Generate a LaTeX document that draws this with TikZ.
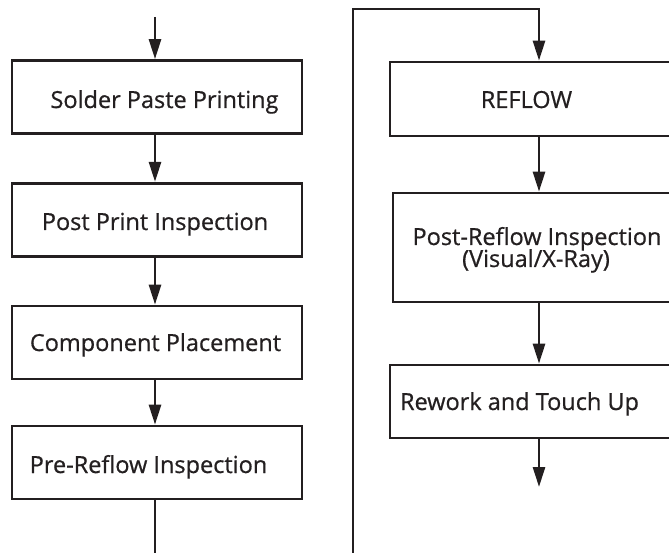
\documentclass[tikz,border=0pt]{standalone}
\usepackage{fontspec}
\setmainfont{Open Sans}[FakeBold=0.7]
\usetikzlibrary{arrows.meta,calc}
\definecolor{ink}{HTML}{231F20}
\begin{document}
\begin{tikzpicture}[x=1pt,y=-1pt,
  box/.style={draw=ink, line width=2.7pt, rectangle, inner sep=0pt},
  lbl/.style={font=\fontsize{23.5}{22}\selectfont, text=ink, inner sep=0pt, anchor=base, align=center},
  arr/.style={draw=ink, line width=2.7pt, -{Triangle[length=20pt,width=12pt]}},
  wire/.style={draw=ink, line width=2.7pt}]
\useasboundingbox (0,0) rectangle (669,553);
\clip (0,0) rectangle (669,553);
% columns
\coordinate (lx) at (155,0);
\coordinate (rc) at (539,0);
\coordinate (start) at (155,17);
\coordinate (finish) at (539,487);
\coordinate (low) at (155,600);
\coordinate (loopup) at (353,9);
% left boxes
\node[box, minimum width=290pt, minimum height=73pt] (b1) at (157,97) {};
\node[box, minimum width=290pt, minimum height=73pt] (b2) at (157,219.7) {};
\node[box, minimum width=290pt, minimum height=73pt] (b3) at (157,342.5) {};
\node[box, minimum width=290pt, minimum height=73pt] (b4) at (157,462.5) {};
% right boxes
\node[box, minimum width=330pt, minimum height=74pt] (b5) at (555,99) {};
\node[box, minimum width=327pt, minimum height=109pt] (b6) at (556.5,247.5) {};
\node[box, minimum width=330pt, minimum height=73pt] (b7) at (555,401.5) {};
% labels
\node[lbl] (t1) at (164.5,108) {Solder Paste Printing};
\node[lbl] (t2) at (155,230) {Post Print Inspection};
\node[lbl] (t3) at (155.5,351) {Component Placement};
\node[lbl] (t4) at (148.5,473) {Pre-Reflow Inspection};
\node[lbl] (t5) at (526.5,108) {REFLOW};
\node[lbl] (t6) at (537,245) {Post-Reflow Inspection};
\node[lbl] (t6b) at (536,267) {(Visual/X-Ray)};
\node[lbl] (t7) at (519.5,410) {Rework and Touch Up};
% connectors
\draw[arr] (start) -- (b1.north -| lx);
\draw[arr] (b1.south -| lx) -- (b2.north -| lx);
\draw[arr] (b2.south -| lx) -- (b3.north -| lx);
\draw[arr] (b3.south -| lx) -- (b4.north -| lx);
\draw[arr] (b4.south -| lx) -- (low) -| (loopup) -| (b5.north -| rc);
\draw[arr] (b5.south -| rc) -- (b6.north -| rc);
\draw[arr] (b6.south -| rc) -- (b7.north -| rc);
\draw[arr] (b7.south -| rc) -- (finish);
\end{tikzpicture}
\end{document}
